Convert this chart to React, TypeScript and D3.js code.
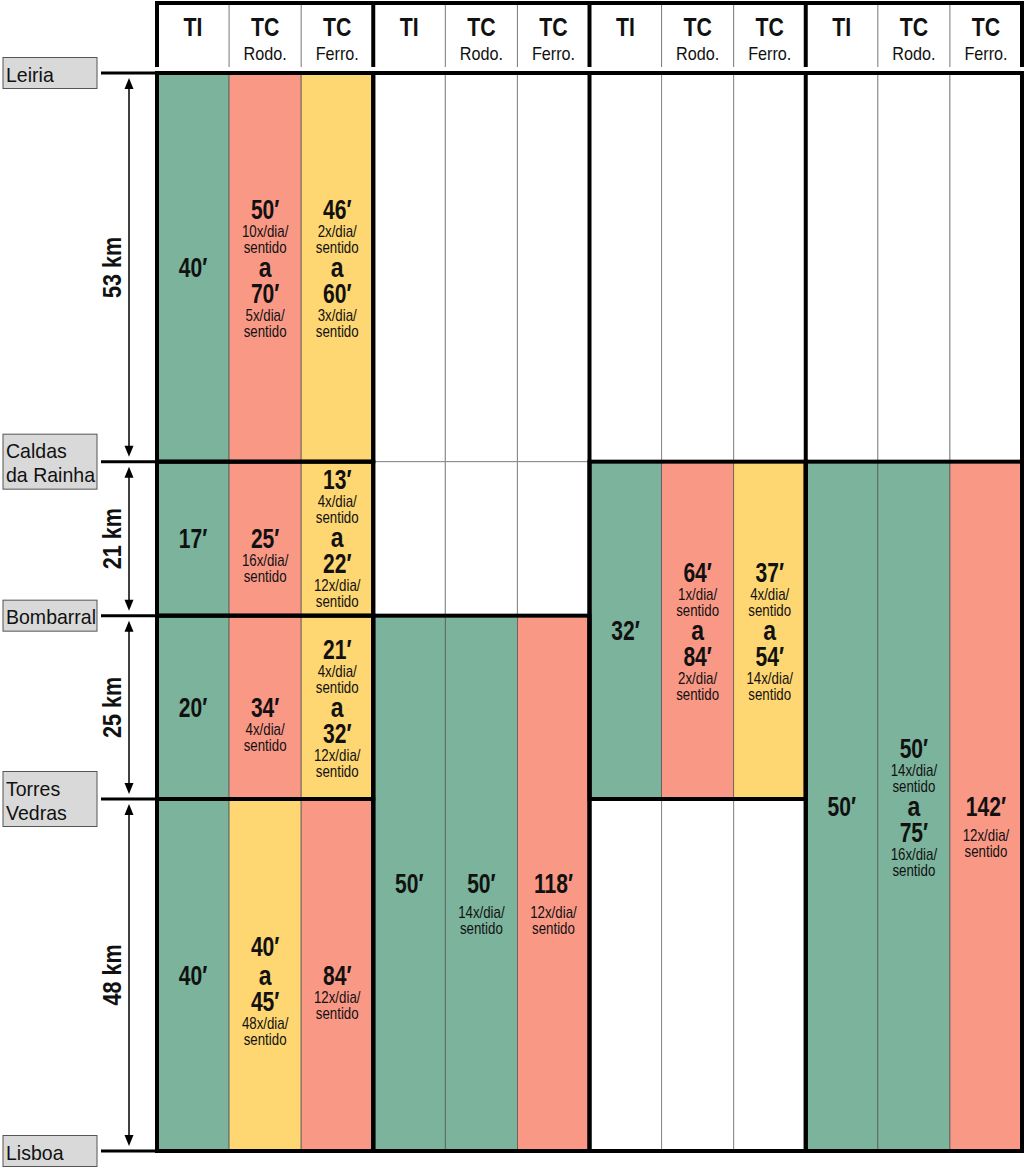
import * as d3 from "d3";

const stationNames = [["Leiria"], ["Caldas", "da Rainha"], ["Bombarral"], ["Torres", "Vedras"], ["Lisboa"]];
const segmentKm = [53, 21, 25, 48];
const modeTitles = ["TI", "TC", "TC"];
const modeSubtitles = ["", "Rodo.", "Ferro."];
const groupCount = 4;

const fills: Record<string, string> = { g: "#7bb39c", r: "#fa9886", y: "#fed672" };

// blocks: group, first station, last station, then per column (TI / Rodo / Ferro)
const blockGroups = [0, 0, 0, 0, 1, 2, 3];
const blockFrom = [0, 1, 2, 3, 2, 1, 1];
const blockTo = [1, 2, 3, 4, 4, 3, 4];
const blockFills = [
  ["g", "r", "y"],
  ["g", "r", "y"],
  ["g", "r", "y"],
  ["g", "y", "r"],
  ["g", "g", "r"],
  ["g", "r", "y"],
  ["g", "g", "r"],
];
const blockTimes = [
  [["40′"], ["50′", "70′"], ["46′", "60′"]],
  [["17′"], ["25′"], ["13′", "22′"]],
  [["20′"], ["34′"], ["21′", "32′"]],
  [["40′"], ["40′", "45′"], ["84′"]],
  [["50′"], ["50′"], ["118′"]],
  [["32′"], ["64′", "84′"], ["37′", "54′"]],
  [["50′"], ["50′", "75′"], ["142′"]],
];
const blockFreqs = [
  [[""], ["10x", "5x"], ["2x", "3x"]],
  [[""], ["16x"], ["4x", "12x"]],
  [[""], ["4x"], ["4x", "12x"]],
  [[""], ["", "48x"], ["12x"]],
  [[""], ["14x"], ["12x"]],
  [[""], ["1x", "2x"], ["4x", "14x"]],
  [[""], ["14x", "16x"], ["12x"]],
];

const font = "'Liberation Sans', Arial, sans-serif";

type Line = { kind: string; text: string };

function cellLines(times: string[], freqs: string[]): Line[] {
  const out: Line[] = [];
  times.forEach((t, i) => {
    if (i > 0) out.push({ kind: "a", text: "a" });
    out.push({ kind: "big", text: t });
    if (freqs[i]) {
      out.push({ kind: "sub", text: freqs[i] + "/dia/" });
      out.push({ kind: "sub", text: "sentido" });
    }
  });
  return out;
}

function gap(a: string, b: string, tallSingle: boolean) {
  if (a === "big" && b === "sub") return tallSingle ? 29 : 22;
  if (a === "sub" && b === "sub") return 16;
  if (a === "sub" && b === "a") return 20;
  if (a === "a") return 26;
  return 29;
}

// condensed text: horizontal squeeze of a regular sans
function CText(props: { x: number; y: number; sx: number; size: number; bold?: boolean; anchor?: string; children: string }) {
  return (
    <text transform={`translate(${props.x},${props.y}) scale(${props.sx},1)`} textAnchor={props.anchor || "middle"}
      fontSize={props.size} fontWeight={props.bold ? "bold" : "normal"} fill="#111">
      {props.children}
    </text>
  );
}

export default function App() {
  const width = 1024;
  const height = 1168;

  const stationKm = [0, ...d3.cumsum(segmentKm)];
  const y = d3.scaleLinear().domain([0, d3.sum(segmentKm)]).range([73, 1151]);
  const x = d3.scaleLinear().domain([0, groupCount * 3]).range([157, 1022]);
  const colW = x(1) - x(0);
  const sy = (i: number) => y(stationKm[i]);

  const covered = d3.range(groupCount).map(() => segmentKm.map(() => false));
  blockGroups.forEach((g, b) => {
    for (let s = blockFrom[b]; s < blockTo[b]; s++) covered[g][s] = true;
  });
  const blanks: { g: number; s: number }[] = [];
  covered.forEach((row, g) => row.forEach((c, s) => { if (!c) blanks.push({ g, s }); }));

  const sizes: Record<string, number> = { big: 27, a: 27, sub: 16 };
  const squeeze: Record<string, number> = { big: 0.78, a: 0.85, sub: 0.83 };

  return (
    <svg width={width} height={height} style={{ position: "absolute", left: 0, top: 0, background: "#fff" }} fontFamily={font}>
      {/* header */}
      {d3.range(groupCount * 3).map((c) => (
        <g key={"h" + c}>
          <CText x={x(c) + colW / 2} y={36} sx={0.85} size={25} bold>{modeTitles[c % 3]}</CText>
          {modeSubtitles[c % 3] && (
            <CText x={x(c) + colW / 2} y={59.5} sx={0.9} size={18}>{modeSubtitles[c % 3]}</CText>
          )}
          {c % 3 !== 0 && <line x1={x(c)} x2={x(c)} y1={3} y2={67} stroke="#777" strokeWidth={1} />}
        </g>
      ))}
      <line x1={x(0) - 2} x2={x(12) + 2} y1={3} y2={3} stroke="#000" strokeWidth={4} />
      {d3.range(groupCount + 1).map((g) => (
        <line key={"hg" + g} x1={x(g * 3)} x2={x(g * 3)} y1={3} y2={67} stroke="#000" strokeWidth={4} />
      ))}

      {/* blank cells */}
      {blanks.map(({ g, s }) =>
        d3.range(3).map((k) => (
          <rect key={`b${g}-${s}-${k}`} x={x(g * 3 + k)} y={sy(s)} width={colW} height={sy(s + 1) - sy(s)}
            fill="#fff" stroke="#888" strokeWidth={1} />
        ))
      )}

      {/* coloured cells */}
      {blockGroups.map((g, b) =>
        d3.range(3).map((k) => {
          const top = sy(blockFrom[b]);
          const bottom = sy(blockTo[b]);
          const cx = x(g * 3 + k) + colW / 2;
          const lines = cellLines(blockTimes[b][k], blockFreqs[b][k]);
          const tallSingle = blockTimes[b][k].length === 1 && bottom - top > 400;
          const offs: number[] = [0];
          for (let i = 1; i < lines.length; i++) offs.push(offs[i - 1] + gap(lines[i - 1].kind, lines[i].kind, tallSingle));
          let anchor = lines.findIndex((l) => l.kind === "a");
          if (anchor < 0) anchor = 0;
          let y0 = (top + bottom) / 2 - offs[anchor];
          const tTop = y0 + offs[0] - 14;
          const tBot = y0 + offs[offs.length - 1] + 9;
          if (tBot > bottom - 6) y0 -= tBot - (bottom - 6);
          if (tTop < top + 6) y0 += top + 6 - tTop;
          return (
            <g key={`c${b}-${k}`}>
              <rect x={x(g * 3 + k)} y={top} width={colW} height={bottom - top}
                fill={fills[blockFills[b][k]]} stroke="#5a5a5a" strokeWidth={0.8} />
              {lines.map((l, i) => (
                <CText key={i} x={cx} y={y0 + offs[i] + sizes[l.kind] * 0.36} sx={squeeze[l.kind]}
                  size={sizes[l.kind]} bold={l.kind !== "sub"}>
                  {l.text}
                </CText>
              ))}
            </g>
          );
        })
      )}

      {/* thick block outlines */}
      {blockGroups.map((g, b) => (
        <rect key={"o" + b} x={x(g * 3)} y={sy(blockFrom[b])} width={colW * 3}
          height={sy(blockTo[b]) - sy(blockFrom[b])} fill="none" stroke="#000" strokeWidth={4} />
      ))}
      {d3.range(groupCount + 1).map((g) => (
        <line key={"gv" + g} x1={x(g * 3)} x2={x(g * 3)} y1={y(0) - 2} y2={y.range()[1] + 2} stroke="#000" strokeWidth={4} />
      ))}
      <line x1={x(0)} x2={x(12) + 2} y1={y(0)} y2={y(0)} stroke="#000" strokeWidth={4} />
      <line x1={x(0)} x2={x(12) + 2} y1={y.range()[1]} y2={y.range()[1]} stroke="#000" strokeWidth={4} />

      {/* stations */}
      {stationNames.map((lines, i) => {
        const h = lines.length === 1 ? 31 : 55;
        const yy = sy(i);
        return (
          <g key={"s" + i}>
            <line x1={101} x2={x(0)} y1={yy} y2={yy} stroke="#000" strokeWidth={3} />
            <rect x={3} y={yy - h / 2} width={94} height={h} fill="#d9d9d9" stroke="#555" strokeWidth={1} />
            {lines.map((t, j) => (
              <CText key={j} x={6} y={yy - ((lines.length - 1) * 24) / 2 + j * 24 + 8.5} sx={0.93} size={21} anchor="start">
                {t}
              </CText>
            ))}
          </g>
        );
      })}

      {/* distance arrows */}
      {segmentKm.map((km, i) => {
        const a = sy(i) + 5;
        const b = sy(i + 1) - 5;
        const mid = (a + b) / 2;
        return (
          <g key={"d" + i}>
            <line x1={129} x2={129} y1={a + 6} y2={b - 6} stroke="#000" strokeWidth={1.5} />
            <path d={`M129,${a} L124.5,${a + 11} L133.5,${a + 11} Z`} fill="#000" />
            <path d={`M129,${b} L124.5,${b - 11} L133.5,${b - 11} Z`} fill="#000" />
            <text transform={`translate(121,${mid}) rotate(-90) scale(0.83,1)`} textAnchor="middle" fontSize={26}
              fontWeight="bold" fill="#111">
              {km} km
            </text>
          </g>
        );
      })}
    </svg>
  );
}
